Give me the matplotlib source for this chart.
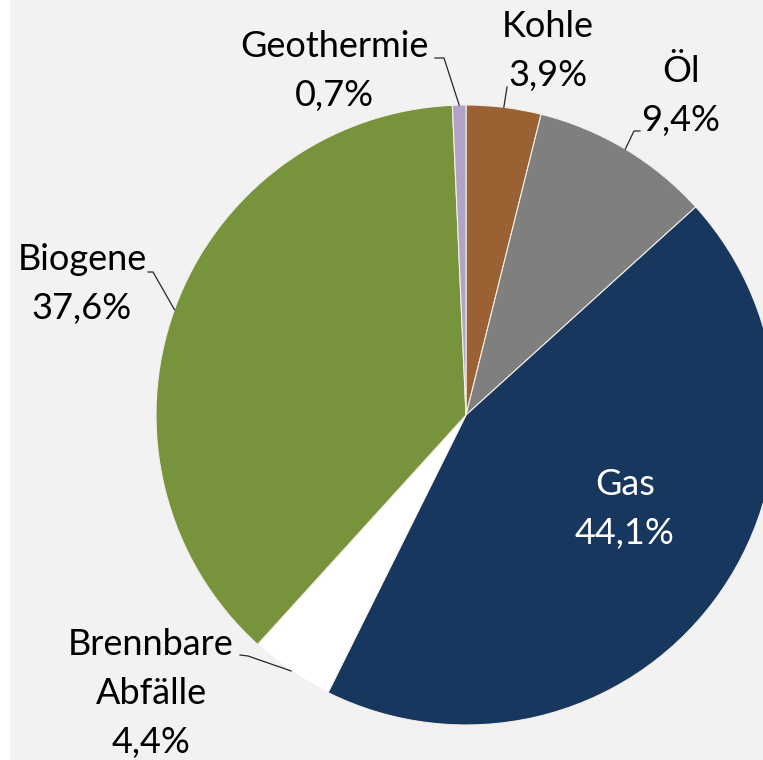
import numpy as np
import matplotlib.pyplot as plt
from matplotlib.patches import Rectangle

# data
names = ['Kohle', 'Öl', 'Gas', 'Brennbare\nAbfälle', 'Biogene', 'Geothermie']
values = [3.9, 9.4, 44.1, 4.4, 37.6, 0.7]
colors = ['#9a6232', '#7f7f7f', '#17375e', '#ffffff', '#77933c', '#b3a2c7']
text_colors = ['black', 'black', 'white', 'black', 'black', 'black']

# pixel layout of the reference (origin top-left)
W, H = 763, 760
cx, cy, R = 466, 415, 310
label_x = [548, 681, 625, 151, 82, 334]
label_base = [37, 82, 495, 655, 270, 57]
line_gap = 49
leaders = [[(507, 87)],
           [(640, 131), (634, 131)],
           None,
           [(240, 655), (248, 656)],
           [(148, 272), (153, 272)],
           [(435, 58), (444, 58)]]

def px(x, y):
    return (x - cx) / R, (cy - y) / R

plt.rcParams['font.family'] = ['Lato', 'DejaVu Sans']
fig = plt.figure(figsize=(W / 100, H / 100), dpi=100)
fig.set_facecolor('#f2f2f2')
fig.patches.append(Rectangle((0, 0), 10 / W, 1, transform=fig.transFigure,
                             facecolor='white', edgecolor='none', zorder=0))
ax = fig.add_axes([0, 0, 1, 1])
ax.set_facecolor('none')

wedges, _ = ax.pie(values, colors=colors, startangle=90, counterclock=False,
                   radius=1, wedgeprops=dict(edgecolor='#f4efe8', linewidth=0.8))

x0, _ = px(0, 0)
x1, _ = px(W, 0)
_, y0 = px(0, H)
_, y1 = px(0, 0)
ax.set_xlim(x0, x1)
ax.set_ylim(y0, y1)
ax.set_aspect('auto')
ax.axis('off')

for i, w in enumerate(wedges):
    pct = ('%.1f' % values[i]).replace('.', ',') + '%'
    lines = names[i].split('\n') + [pct]
    for k, line in enumerate(lines):
        tx, ty = px(label_x[i], label_base[i] + k * line_gap)
        ax.text(tx, ty, line, ha='center', va='baseline', fontsize=26,
                color=text_colors[i])
    if leaders[i] is not None:
        ang = np.deg2rad((w.theta1 + w.theta2) / 2)
        pts = [px(*p) for p in leaders[i]] + [(np.cos(ang), np.sin(ang))]
        xs, ys = zip(*pts)
        ax.plot(xs, ys, color='#262626', linewidth=0.9)

fig.savefig('out.png', dpi=100, facecolor=fig.get_facecolor())
